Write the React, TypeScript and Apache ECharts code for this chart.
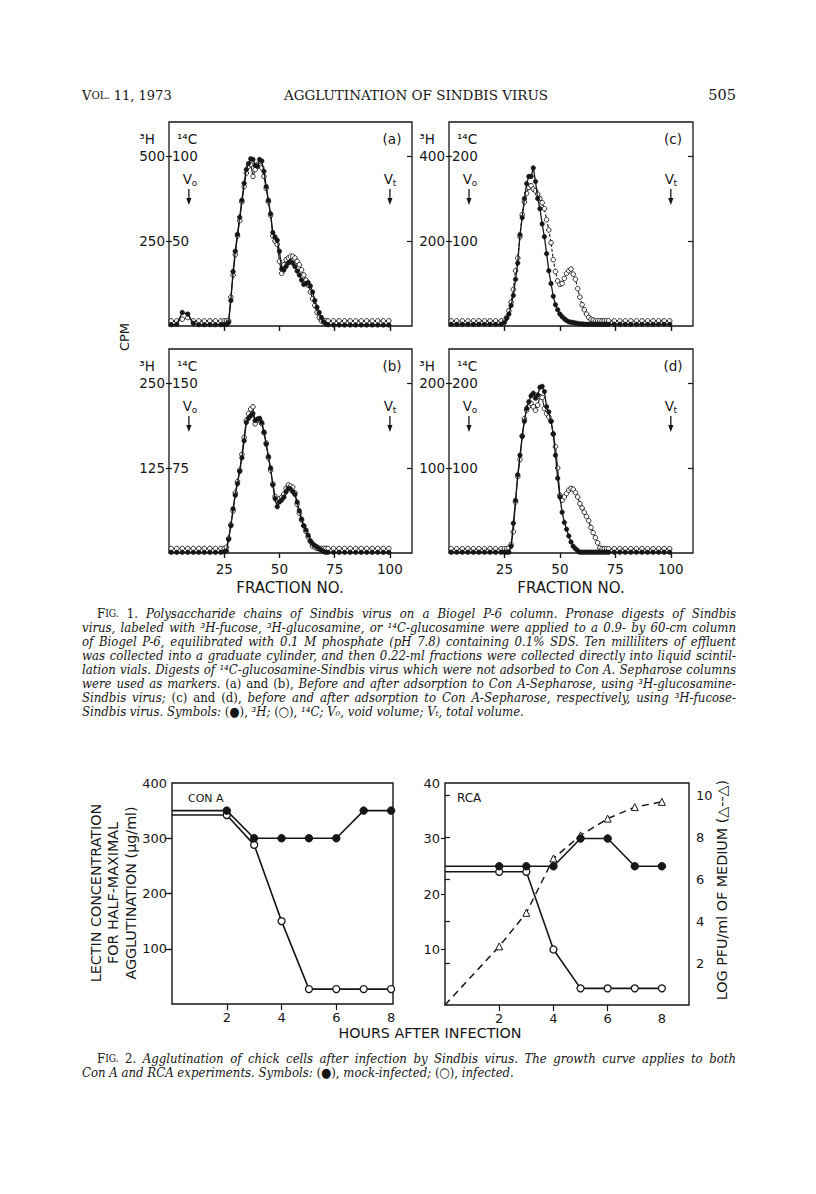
import React, { useEffect, useRef } from "react";
import * as echarts from "echarts";

// ---------------- DATA ----------------
// Fig. 1: fraction numbers (x) shared by all four panels
const FRACTIONS = [1, 3.5, 6, 8.5, 11, 13.5, 16, 18.5, 21, 23.5,
  25, 26, 27, 28, 29, 30, 31, 32, 33, 34, 35, 36, 37, 38, 39, 40, 41, 42, 43, 44,
  45, 46, 47, 48, 49, 50, 51, 52, 53, 54, 55, 56, 57, 58, 59, 60, 61, 62, 63, 64,
  65, 66, 67, 68, 69, 70, 71, 72,
  74.5, 77, 79.5, 82, 84.5, 87, 89.5, 92, 94.5, 97, 99.5];
const FRACTION_TICKS = [25, 50, 75, 100];

// (a) 3H (filled) and 14C (open)
const A_H3 = [4, 5, 40, 35, 8, 4, 4, 4, 4, 4,
  4, 5, 10, 75, 160, 220, 270, 320, 370, 420,
  460, 478, 492, 490, 472, 470, 490, 485, 455, 410,
  370, 330, 275, 262, 252, 220, 168, 165, 175, 185,
  190, 185, 175, 162, 150, 135, 122, 125, 128, 118,
  100, 75, 55, 40, 25, 12, 6, 4,
  3, 3, 3, 3, 3, 3, 3, 3, 3, 3, 3];
const A_C14 = [3, 3, 4, 5, 3, 3, 3, 3, 3, 3,
  3, 3, 3, 17, 30, 42, 53, 62, 73, 82,
  90, 94, 95, 88, 92, 95, 94, 93, 88, 81,
  73, 65, 53, 50, 48, 38, 31, 36, 39, 40,
  41, 41, 40, 38, 36, 33, 30, 27, 24, 20,
  16, 12, 8, 5, 3, 3, 3, 3,
  3, 3, 3, 3, 3, 3, 3, 3, 3, 3, 3];
// (b)
const B_H3 = [1, 1, 1, 1, 1, 1, 1, 1, 1, 1,
  2, 3, 20, 40, 65, 85, 102, 120, 140, 165,
  192, 198, 202, 205, 195, 197, 198, 192, 178, 160,
  142, 125, 100, 80, 68, 75, 78, 82, 90, 95,
  94, 90, 86, 75, 62, 50, 40, 34, 26, 18,
  14, 11, 9, 6, 4, 2, 1, 1,
  1, 1, 1, 1, 1, 1, 1, 1, 1, 1, 1];
const B_C14 = [4, 4, 4, 4, 4, 4, 4, 4, 4, 4,
  4, 5, 13, 25, 37, 53, 63, 73, 87, 102,
  117, 123, 127, 129, 114, 117, 118, 114, 106, 97,
  84, 73, 61, 50, 46, 48, 49, 52, 57, 60,
  59, 58, 53, 43, 35, 29, 24, 19, 14, 10,
  6, 5, 4, 4, 4, 4, 4, 4,
  4, 4, 4, 4, 4, 4, 4, 4, 4, 4, 4];
// (c)
const C_H3 = [4, 4, 4, 4, 4, 4, 4, 4, 4, 4,
  8, 18, 28, 48, 72, 110, 148, 215, 255, 300,
  335, 352, 352, 372, 340, 300, 276, 240, 210, 170,
  130, 100, 70, 50, 38, 28, 22, 17, 13, 10,
  9, 8, 7, 6, 5, 5, 4, 4, 4, 4,
  4, 4, 4, 4, 4, 4, 4, 4,
  4, 4, 4, 4, 4, 4, 4, 4, 4, 4, 4];
const C_C14 = [6, 6, 6, 6, 6, 6, 6, 6, 6, 6,
  6, 10, 18, 28, 43, 65, 80, 105, 131, 146,
  156, 163, 165, 161, 159, 155, 150, 145, 138, 125,
  113, 98, 78, 64, 53, 49, 50, 56, 62, 65,
  67, 61, 55, 44, 34, 25, 19, 14, 10, 8,
  7, 6, 6, 6, 6, 6, 6, 6,
  6, 6, 6, 6, 6, 6, 6, 6, 6, 6, 6];
// (d)
const D_H3 = [1, 1, 1, 1, 1, 1, 1, 1, 1, 1,
  1, 1, 1, 8, 35, 62, 92, 115, 137, 155,
  170, 178, 185, 188, 182, 186, 195, 196, 190, 172,
  166, 155, 140, 115, 88, 66, 48, 36, 28, 20,
  13, 8, 5, 3, 1, 1, 1, 1, 1, 1,
  1, 1, 1, 1, 1, 1, 1, 1,
  1, 1, 1, 1, 1, 1, 1, 1, 1, 1, 1];
const D_C14 = [5, 5, 5, 5, 5, 5, 5, 5, 5, 5,
  5, 5, 6, 10, 25, 60, 90, 110, 138, 158,
  168, 173, 176, 172, 168, 174, 184, 183, 170, 164,
  160, 155, 140, 125, 100, 68, 62, 66, 70, 74,
  76, 75, 71, 66, 58, 53, 48, 43, 38, 30,
  24, 18, 12, 6, 5, 5, 5, 5,
  5, 5, 5, 5, 5, 5, 5, 5, 5, 5, 5];

// Fig. 2
const HOURS = [0, 2, 3, 4, 5, 6, 7, 8];
const HOUR_TICKS = [2, 4, 6, 8];
const CONA_MOCK = [350, 350, 300, 300, 300, 300, 350, 350];
const CONA_INFECTED = [342, 342, 288, 150, 27, 27, 27, 27];
const RCA_MOCK = [25, 25, 25, 25, 30, 30, 25, 25];
const RCA_INFECTED = [24, 24, 24, 10, 3, 3, 3, 3];
const GROWTH_LOG_PFU = [0, 2.8, 4.4, 7.0, 8.1, 8.9, 9.45, 9.7];

// ---------------- TEXT ----------------
const CAPTION1 = [
  "#FIG. ^1. Polysaccharide chains of Sindbis virus on a Biogel P-6 column. Pronase digests of Sindbis",
  "virus, labeled with ³H-fucose, ³H-glucosamine, or ¹⁴C-glucosamine were applied to a 0.9- by 60-cm column",
  "of Biogel P-6, equilibrated with 0.1 M phosphate (pH 7.8) containing 0.1% SDS. Ten milliliters of effluent",
  "was collected into a graduate cylinder, and then 0.22-ml fractions were collected directly into liquid scintil-",
  "lation vials. Digests of ¹⁴C-glucosamine-Sindbis virus which were not adsorbed to Con A. Sepharose columns",
  "were used as markers. ^(a) ^and ^(b), Before and after adsorption to Con A-Sepharose, using ³H-glucosamine-",
  "Sindbis virus; ^(c) ^and ^(d), before and after adsorption to Con A-Sepharose, respectively, using ³H-fucose-",
  "Sindbis virus. Symbols: ^(●), ³H; ^(○), ¹⁴C; V₀, void volume; Vₜ, total volume.",
];
const CAPTION2 = [
  "#FIG. ^2. Agglutination of chick cells after infection by Sindbis virus. The growth curve applies to both",
  "Con A and RCA experiments. Symbols: ^(●), mock-infected; ^(○), infected.",
];

// ---------------- STYLE / LAYOUT ----------------
const INK = "#161616";
const FIG = '"DejaVu Sans", "Liberation Sans", sans-serif';
const SERIF = '"DejaVu Serif Condensed", "DejaVu Serif", "Liberation Serif", serif';
const HEAD = '"DejaVu Serif", "Liberation Serif", serif';

const PANELS = [
  { name: "(a)", left: 169, top: 122, width: 243, height: 204, h3: A_H3, c14: A_C14, h3Max: 600, h3Step: 250, c14Max: 120, c14Step: 50, xLabels: false, dashed: false },
  { name: "(c)", left: 449, top: 122, width: 244, height: 204, h3: C_H3, c14: C_C14, h3Max: 480, h3Step: 200, c14Max: 240, c14Step: 100, xLabels: false, dashed: true },
  { name: "(b)", left: 169, top: 349, width: 243, height: 204, h3: B_H3, c14: B_C14, h3Max: 300, h3Step: 125, c14Max: 180, c14Step: 75, xLabels: true, dashed: false },
  { name: "(d)", left: 449, top: 349, width: 244, height: 204, h3: D_H3, c14: D_C14, h3Max: 240, h3Step: 100, c14Max: 240, c14Step: 100, xLabels: true, dashed: false },
];
const X_MAX = 110;

function textEl(x: number, y: number, text: string, font: string, align = "center", rotation = 0, extra: any = {}) {
  return {
    type: "text", x, y, rotation, silent: true, z: 100,
    style: { text, font, fill: INK, align, textAlign: align, verticalAlign: "middle", textVerticalAlign: "middle", ...extra },
  };
}

let _ctx: CanvasRenderingContext2D | null = null;
function measure(text: string, font: string) {
  if (!_ctx) _ctx = document.createElement("canvas").getContext("2d");
  _ctx!.font = font;
  return _ctx!.measureText(text).width;
}

type Seg = { text: string; font: string; dy: number };
function wordSegs(raw: string, fs: number, fam: string): Seg[] {
  if (raw.startsWith("#")) {
    const w = raw.slice(1);
    const small = fs * 0.78;
    return [
      { text: w[0], font: `${fs.toFixed(2)}px ${fam}`, dy: 0 },
      { text: w.slice(1), font: `${small.toFixed(2)}px ${fam}`, dy: 0.3 * (fs - small) },
    ];
  }
  if (raw.startsWith("^")) return [{ text: raw.slice(1), font: `${fs.toFixed(2)}px ${fam}`, dy: 0 }];
  return [{ text: raw, font: `italic ${fs.toFixed(2)}px ${fam}`, dy: 0 }];
}
function segWidth(segs: Seg[]) {
  return segs.reduce((s, sg) => s + measure(sg.text, sg.font), 0);
}

function naturalRatio(lines: string[], fs: number, x0: number, x1: number, indent: number) {
  let r = Infinity;
  const sp = measure(" ", `italic ${fs}px ${SERIF}`);
  lines.forEach((line, li) => {
    if (li === lines.length - 1) return;
    const words = line.split(" ").map((w) => wordSegs(w, fs, SERIF));
    const total = words.reduce((s, w) => s + segWidth(w), 0) + sp * (words.length - 1);
    const avail = x1 - x0 - (li === 0 ? indent : 0);
    r = Math.min(r, avail / total);
  });
  return r;
}

function layoutParagraph(lines: string[], fs: number, fam: string, x0: number, x1: number, y0: number, lh: number, indent: number, out: any[]) {
  const sp = measure(" ", `italic ${fs.toFixed(2)}px ${fam}`);
  lines.forEach((line, li) => {
    const words = line.split(" ").map((w) => wordSegs(w, fs, fam));
    const widths = words.map(segWidth);
    const start = x0 + (li === 0 ? indent : 0);
    const total = widths.reduce((a, b) => a + b, 0);
    const last = li === lines.length - 1;
    const gap = last ? sp : (x1 - start - total) / (words.length - 1);
    let x = start;
    const y = y0 + li * lh;
    words.forEach((segs) => {
      segs.forEach((sg) => {
        out.push(textEl(x, y + sg.dy, sg.text, sg.font, "left"));
        x += measure(sg.text, sg.font);
      });
      x += gap;
    });
  });
}

function buildOption() {
  const grid: any[] = [];
  const xAxis: any[] = [];
  const yAxis: any[] = [];
  const series: any[] = [];
  const graphic: any[] = [];
  const tickStyle = { color: INK, width: 1.2 };
  const labelStyle = { color: INK, fontFamily: FIG, fontSize: 13 };

  // ---------- Fig. 1 ----------
  PANELS.forEach((p, gi) => {
    grid.push({ left: p.left, top: p.top, width: p.width, height: p.height, show: true, borderColor: INK, borderWidth: 1.3, backgroundColor: "rgba(0,0,0,0)" });
    const xb = xAxis.length;
    xAxis.push({
      type: "value", gridIndex: gi, min: 0, max: X_MAX, interval: 25, position: "bottom",
      axisLine: { show: false }, splitLine: { show: false },
      axisTick: { show: true, inside: false, length: 5, customValues: FRACTION_TICKS, lineStyle: tickStyle },
      axisLabel: { show: p.xLabels, customValues: FRACTION_TICKS, margin: 9, ...labelStyle, fontSize: 13.5 },
    });
    xAxis.push({
      type: "value", gridIndex: gi, min: 0, max: X_MAX, interval: 25, position: "top",
      axisLine: { show: false }, splitLine: { show: false },
      axisTick: { show: true, inside: true, length: 5, customValues: FRACTION_TICKS, lineStyle: tickStyle },
      axisLabel: { show: false },
    });
    const yb = yAxis.length;
    const h3Ticks = [p.h3Step, 2 * p.h3Step];
    const c14Ticks = [p.c14Step, 2 * p.c14Step];
    yAxis.push({
      type: "value", gridIndex: gi, min: 0, max: p.h3Max, interval: p.h3Step, position: "left",
      axisLine: { show: false }, splitLine: { show: false },
      axisTick: { show: true, inside: false, length: 3, customValues: h3Ticks, lineStyle: tickStyle },
      axisLabel: { customValues: h3Ticks, margin: 4, ...labelStyle, fontSize: 13.5 },
    });
    yAxis.push({
      type: "value", gridIndex: gi, min: 0, max: p.c14Max, interval: p.c14Step, position: "left",
      axisLine: { show: false }, splitLine: { show: false },
      axisTick: { show: true, inside: true, length: 3, customValues: c14Ticks, lineStyle: tickStyle },
      axisLabel: { inside: true, customValues: c14Ticks, margin: 3, ...labelStyle, fontSize: 13.5 },
    });
    yAxis.push({
      type: "value", gridIndex: gi, min: 0, max: p.h3Max, interval: p.h3Step, position: "right",
      axisLine: { show: false }, splitLine: { show: false },
      axisTick: { show: true, inside: true, length: 5, customValues: h3Ticks, lineStyle: tickStyle },
      axisLabel: { show: false },
    });
    series.push({
      type: "line", name: `${p.name} 14C`, xAxisIndex: xb, yAxisIndex: yb + 1,
      data: FRACTIONS.map((f, i) => [f, p.c14[i]]),
      symbol: "circle", symbolSize: 4.6, showAllSymbol: true, z: 3,
      lineStyle: { color: INK, width: 1.1, type: p.dashed ? [3, 2] : "solid" },
      itemStyle: { color: "#fff", borderColor: INK, borderWidth: 0.9 },
    });
    series.push({
      type: "line", name: `${p.name} 3H`, xAxisIndex: xb, yAxisIndex: yb,
      data: FRACTIONS.map((f, i) => [f, p.h3[i]]),
      symbol: "circle", symbolSize: 4.6, showAllSymbol: true, z: 4,
      lineStyle: { color: INK, width: 1.3 },
      itemStyle: { color: INK, borderColor: INK, borderWidth: 0.5 },
    });

    // panel annotations
    const fx = (f: number) => p.left + (f * p.width) / X_MAX;
    graphic.push(textEl(p.left - 22, p.top + 17, "³H", `13.5px ${FIG}`));
    graphic.push(textEl(p.left + 18, p.top + 17, "¹⁴C", `13.5px ${FIG}`));
    graphic.push(textEl(p.left + p.width - 20, p.top + 17, p.name, `13.5px ${FIG}`));
    [[9, "o"], [100, "t"]].forEach(([f, sub]: any) => {
      const x = fx(f);
      graphic.push(textEl(x - 1.5, p.top + 57, "V", `13.5px ${FIG}`));
      graphic.push(textEl(x + 2.8, p.top + 61, sub, `9px ${FIG}`, "left"));
      graphic.push({ type: "line", silent: true, z: 100, shape: { x1: x, y1: p.top + 67, x2: x, y2: p.top + 78 }, style: { stroke: INK, lineWidth: 1.3 } });
      graphic.push({ type: "polygon", silent: true, z: 100, shape: { points: [[x - 2.6, p.top + 76], [x + 2.6, p.top + 76], [x, p.top + 83]] }, style: { fill: INK } });
    });
  });
  graphic.push(textEl(124, 337, "CPM", `13px ${FIG}`, "center", Math.PI / 2));
  graphic.push(textEl(290, 588, "FRACTION NO.", `15px ${FIG}`));
  graphic.push(textEl(571, 588, "FRACTION NO.", `15px ${FIG}`));

  // ---------- Fig. 2 ----------
  const g2 = grid.length;
  grid.push({ left: 172, top: 783, width: 221, height: 221, show: true, borderColor: INK, borderWidth: 1.4, backgroundColor: "rgba(0,0,0,0)" });
  grid.push({ left: 445, top: 783, width: 244, height: 222, show: true, borderColor: INK, borderWidth: 1.4, backgroundColor: "rgba(0,0,0,0)" });
  const fig2X = (gi: number, max: number) => {
    const xb = xAxis.length;
    xAxis.push({
      type: "value", gridIndex: gi, min: 0, max, interval: 2, position: "bottom",
      axisLine: { show: false }, splitLine: { show: false }, axisTick: { show: false },
      axisLabel: { customValues: HOUR_TICKS, margin: 7, ...labelStyle },
    });
    xAxis.push({
      type: "value", gridIndex: gi, min: 0, max, interval: 2, position: "top",
      axisLine: { show: false }, splitLine: { show: false },
      axisTick: { show: true, inside: true, length: 6, customValues: [2, 4, 6], lineStyle: tickStyle },
      axisLabel: { show: false },
    });
    return xb;
  };
  const xConA = fig2X(g2, 8.07);
  const xRca = fig2X(g2 + 1, 9);
  const yConA = yAxis.length;
  yAxis.push({
    type: "value", gridIndex: g2, min: 0, max: 400, interval: 100, position: "left",
    axisLine: { show: false }, splitLine: { show: false },
    axisTick: { show: true, inside: false, length: 4, customValues: [100, 200, 300], lineStyle: tickStyle },
    axisLabel: { customValues: [100, 200, 300, 400], margin: 5, ...labelStyle },
  });
  yAxis.push({
    type: "value", gridIndex: g2, min: 0, max: 400, interval: 100, position: "right",
    axisLine: { show: false }, splitLine: { show: false },
    axisTick: { show: true, inside: true, length: 7, customValues: [100, 200, 300], lineStyle: tickStyle },
    axisLabel: { show: false },
  });
  const yRca = yAxis.length;
  yAxis.push({
    type: "value", gridIndex: g2 + 1, min: 0, max: 40, interval: 10, position: "left",
    axisLine: { show: false }, splitLine: { show: false },
    axisTick: { show: true, inside: false, length: 4, customValues: [10, 20, 30], lineStyle: tickStyle },
    axisLabel: { customValues: [10, 20, 30, 40], margin: 5, ...labelStyle },
  });
  yAxis.push({
    type: "value", gridIndex: g2 + 1, min: 0, max: 10.6, interval: 2, position: "right",
    axisLine: { show: false }, splitLine: { show: false },
    axisTick: { show: true, inside: false, length: 5, customValues: [2, 4, 6, 8, 10], lineStyle: tickStyle },
    axisLabel: { customValues: [2, 4, 6, 8, 10], margin: 7, ...labelStyle },
  });
  const pts = (vals: number[], sym: string) =>
    HOURS.map((h, i) => ({ value: [h, vals[i]], symbol: h === 0 ? "none" : sym }));
  const filled = { color: INK, borderColor: INK, borderWidth: 1 };
  const open = { color: "#fff", borderColor: INK, borderWidth: 1.3 };
  series.push({ type: "line", name: "Con A infected", xAxisIndex: xConA, yAxisIndex: yConA, data: pts(CONA_INFECTED, "circle"), symbolSize: 7, lineStyle: { color: INK, width: 1.6 }, itemStyle: open, z: 3 });
  series.push({ type: "line", name: "Con A mock", xAxisIndex: xConA, yAxisIndex: yConA, data: pts(CONA_MOCK, "circle"), symbolSize: 7.5, lineStyle: { color: INK, width: 1.6 }, itemStyle: filled, z: 4 });
  series.push({ type: "line", name: "growth", xAxisIndex: xRca, yAxisIndex: yRca + 1, data: pts(GROWTH_LOG_PFU, "triangle"), symbolSize: 7, lineStyle: { color: INK, width: 1.5, type: [7, 5] }, itemStyle: { color: "#fff", borderColor: INK, borderWidth: 1 }, z: 2 });
  series.push({ type: "line", name: "RCA infected", xAxisIndex: xRca, yAxisIndex: yRca, data: pts(RCA_INFECTED, "circle"), symbolSize: 7, lineStyle: { color: INK, width: 1.6 }, itemStyle: open, z: 3 });
  series.push({ type: "line", name: "RCA mock", xAxisIndex: xRca, yAxisIndex: yRca, data: pts(RCA_MOCK, "circle"), symbolSize: 7.5, lineStyle: { color: INK, width: 1.6 }, itemStyle: filled, z: 4 });

  graphic.push(textEl(188, 798, "CON A", `11px ${FIG}`, "left"));
  graphic.push(textEl(457, 798, "RCA", `12px ${FIG}`, "left"));
  graphic.push(textEl(113, 893, "LECTIN CONCENTRATION\nFOR HALF-MAXIMAL\nAGGLUTINATION (μg/ml)", `14.3px ${FIG}`, "center", Math.PI / 2, { lineHeight: 17.5 }));
  graphic.push(textEl(722, 890, "LOG PFU/ml OF MEDIUM (△--△)", `14.3px ${FIG}`, "center", Math.PI / 2));
  graphic.push(textEl(430, 1033, "HOURS AFTER INFECTION", `14.3px ${FIG}`));

  // ---------- page header ----------
  layoutParagraph(["#VOL. ^11, ^1973"], 13, HEAD, 82, 300, 95, 15, 0, graphic);
  graphic.push(textEl(416, 95, "AGGLUTINATION OF SINDBIS VIRUS", `13.5px ${HEAD}`));
  graphic.push(textEl(736, 95, "505", `14.5px ${HEAD}`, "right"));

  // ---------- captions ----------
  const X0 = 82, X1 = 736, IND = 15;
  const r = Math.min(naturalRatio(CAPTION1, 14, X0, X1, IND), naturalRatio(CAPTION2, 14, X0, X1, IND));
  const fs = Math.max(11, Math.min(15, 14 * r * 0.99));
  layoutParagraph(CAPTION1, fs, SERIF, X0, X1, 613, 14, IND, graphic);
  layoutParagraph(CAPTION2, fs, SERIF, X0, X1, 1058, 14.5, IND, graphic);

  return { animation: false, backgroundColor: "#fff", grid, xAxis, yAxis, series, graphic };
}

export default function App() {
  const ref = useRef<HTMLDivElement>(null);
  useEffect(() => {
    const chart = echarts.init(ref.current!, null, { renderer: "svg", width: 816, height: 1194 });
    chart.setOption(buildOption() as any);
    return () => chart.dispose();
  }, []);
  return <div ref={ref} style={{ position: "absolute", left: 0, top: 0, width: 816, height: 1194, background: "#fff" }} />;
}
